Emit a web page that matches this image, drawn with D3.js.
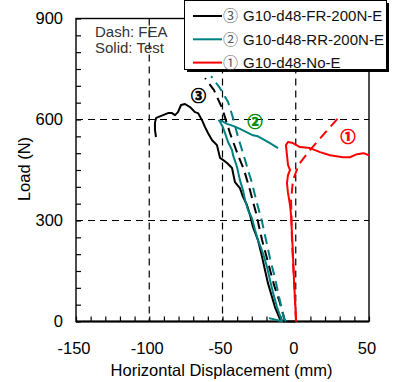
<!DOCTYPE html>
<html><head><meta charset="utf-8">
<script src="https://cdn.jsdelivr.net/npm/d3@7"></script>
<style>body{margin:0;background:#fff}svg{display:block}text{font-family:"Liberation Sans",Arial,sans-serif}</style>
</head><body><svg id="c" width="394" height="382"></svg>
<script>
// ---- data (x: horizontal displacement mm, y: load N) ----
const xTicks = [-150, -100, -50, 0, 50];
const yTicks = [0, 300, 600, 900];
const xGrid = [-100, -50, 0];
const yGrid = [300, 600];

const fr200Test = [[-8.7,0],[-0.5,0],[-8.7,1],[-10.8,7],[-14.2,43],[-16.2,73],[-19.0,114],[-21.0,153],[-23.0,192],[-25.8,242],[-29.2,281],[-31.2,316],[-33.3,346],[-36.0,370],[-38.1,396],[-41.5,414],[-43.5,456],[-46.9,471],[-49.7,480],[-51.7,486],[-53.8,524],[-57.2,539],[-59.9,560],[-62.0,578],[-64.0,598],[-66.7,619],[-68.8,622],[-72.2,637],[-75.6,646],[-78.3,643],[-80.4,622],[-82.4,613],[-84.5,619],[-87.2,619],[-90.6,613],[-94.0,607],[-95.4,604],[-96.1,590],[-96.1,569],[-95.4,548]];
const fr200FEA = [[-7.3,0],[-10.8,55],[-14.8,108],[-19.0,177],[-23.0,242],[-27.1,322],[-31.2,390],[-35.3,450],[-39.4,494],[-44.9,560],[-50.3,634],[-55.8,687],[-61.9,723]];
const rr200Test = [[-18.3,10],[-9.4,1],[-12.8,43],[-15.5,85],[-17.6,123],[-19.6,162],[-22.4,203],[-25.8,242],[-27.8,272],[-29.9,307],[-32.6,331],[-34.6,361],[-36.0,390],[-38.1,420],[-40.1,459],[-42.8,494],[-43.5,509],[-46.2,533],[-48.3,560],[-49.7,577],[-51.7,593],[-52.4,597],[-50.3,595],[-46.9,587],[-42.8,581],[-38.1,572],[-33.3,562],[-29.2,553],[-25.8,550],[-22.4,542],[-17.6,530],[-12.1,515]];
const rr200FEA = [[-6.7,0],[-8.0,10],[-11.4,73],[-14.2,129],[-17.6,188],[-20.3,242],[-23.0,296],[-26.5,352],[-29.9,411],[-34.6,480],[-39.4,548],[-42.8,604],[-46.2,652],[-51.7,693],[-57.8,729]];
const noETest = [[0.2,0],[-0.5,64],[-1.2,123],[-1.9,198],[-2.6,263],[-3.2,316],[-3.9,346],[-5.3,382],[-6.0,411],[-5.3,435],[-3.9,450],[-5.3,465],[-6.0,495],[-6.7,524],[-5.3,533],[-1.9,530],[2.9,518],[9.7,515],[16.6,503],[23.4,494],[32.3,488],[37.0,488],[41.8,497],[46.2,500],[50,494]];
const noEFEA = [[0.2,0],[-1.2,123],[-2.6,242],[-3.2,361],[-1.9,420],[2.2,467],[9.7,509],[19.9,560],[29.5,607]];

const seriesNames = ["G10-d48-FR-200N-E", "G10-d48-RR-200N-E", "G10-d48-No-E"];
const seriesMarks = ["③", "②", "①"];
const seriesColors = ["#000000", "#008080", "#ff0000"];
const labelColors = ["#000000", "#009000", "#ff0000"];
const labelPos = [[-66.4, 670], [-27.8, 595], [35.7, 548]];

// ---- drawing ----
const svg = d3.select("#c");
const L = 76, R = 369, T = 18.5, B = 321.5;
const x = d3.scaleLinear().domain([-150, 50]).range([L, R]);
const y = d3.scaleLinear().domain([0, 900]).range([B, T]);
const markFont = '"Noto Sans CJK JP","DejaVu Sans",sans-serif';

// gridlines
svg.append("g").selectAll("line").data(xGrid).join("line")
  .attr("x1", d => x(d)).attr("x2", d => x(d)).attr("y1", T).attr("y2", B)
  .attr("stroke", "#000").attr("stroke-width", 1.2).attr("stroke-dasharray", "7,5");
svg.append("g").selectAll("line").data(yGrid).join("line")
  .attr("x1", L).attr("x2", R).attr("y1", d => y(d)).attr("y2", d => y(d))
  .attr("stroke", "#000").attr("stroke-width", 1.2).attr("stroke-dasharray", "7,5");

// axes with inner minor ticks
const xAxis = d3.axisBottom(x).tickValues(d3.range(-150, 51, 10)).tickSize(-5).tickFormat("");
const gx = svg.append("g").attr("transform", `translate(0,${B})`).call(xAxis);
const yAxis = d3.axisLeft(y).tickValues(d3.range(0, 901, 50)).tickSize(-5).tickFormat("");
const gy = svg.append("g").attr("transform", `translate(${L},0)`).call(yAxis);
[gx, gy].forEach(g => { g.select(".domain").remove(); g.selectAll("line").attr("stroke", "#000").attr("stroke-width", 1.2); });

// tick labels
svg.append("g").selectAll("text").data(xTicks).join("text")
  .attr("x", d => x(d) - 2).attr("y", 354).attr("text-anchor", "middle")
  .attr("font-size", 16.5).attr("fill", "#000").text(d => d);
svg.append("g").selectAll("text").data(yTicks).join("text")
  .attr("x", 63).attr("y", d => y(d)).attr("dy", "0.36em").attr("text-anchor", "end")
  .attr("font-size", 16.5).attr("fill", "#000").text(d => d);

// frame
svg.append("rect").attr("x", L).attr("y", T).attr("width", R - L).attr("height", B - T)
  .attr("fill", "none").attr("stroke", "#000").attr("stroke-width", 1.4);
svg.append("line").attr("x1", L).attr("x2", R).attr("y1", B).attr("y2", B).attr("stroke", "#000").attr("stroke-width", 2);

// curves
const line = d3.line().x(d => x(d[0])).y(d => y(d[1]));
const curves = [
  [fr200Test, 0, false], [rr200Test, 1, false], [noETest, 2, false],
  [fr200FEA, 0, true], [rr200FEA, 1, true], [noEFEA, 2, true]
];
curves.forEach(([data, i, dashed]) => {
  svg.append("path").attr("d", line(data)).attr("fill", "none")
    .attr("stroke", seriesColors[i]).attr("stroke-width", 2)
    .attr("stroke-linejoin", "round")
    .attr("stroke-dasharray", dashed ? "10,6" : null);
});

// curve labels
svg.append("g").selectAll("text").data(labelPos).join("text")
  .attr("x", d => x(d[0])).attr("y", d => y(d[1])).attr("dy", "0.36em")
  .attr("text-anchor", "middle").attr("font-size", 15).attr("font-weight", "bold")
  .style("font-family", markFont)
  .attr("fill", (d, i) => labelColors[i])
  .attr("stroke", (d, i) => labelColors[i]).attr("stroke-width", 0.7)
  .text((d, i) => seriesMarks[i]);

// axis titles
svg.append("text").attr("x", 221.5).attr("y", 376).attr("text-anchor", "middle")
  .attr("font-size", 16.5).attr("fill", "#000").text("Horizontal Displacement (mm)");
svg.append("text").attr("transform", "translate(30,169) rotate(-90)").attr("text-anchor", "middle")
  .attr("font-size", 16.5).attr("fill", "#000").text("Load (N)");

// note
svg.append("text").attr("x", 95).attr("y", 37).attr("font-size", 15).attr("fill", "#333").text("Dash: FEA");
svg.append("text").attr("x", 95).attr("y", 53).attr("font-size", 15).attr("fill", "#333").text("Solid: Test");

// legend
const lg = svg.append("g");
lg.append("rect").attr("x", 187).attr("y", 3).attr("width", 202).attr("height", 69).attr("fill", "#000");
lg.append("rect").attr("x", 184.5).attr("y", 0.5).attr("width", 202).attr("height", 69)
  .attr("fill", "#fff").attr("stroke", "#000").attr("stroke-width", 1);
seriesNames.forEach((name, i) => {
  const yy = 16 + i * 23.3;
  lg.append("line").attr("x1", 193).attr("x2", 222).attr("y1", yy).attr("y2", yy)
    .attr("stroke", seriesColors[i]).attr("stroke-width", 2);
  lg.append("text").attr("x", 230.5).attr("y", yy).attr("dy", "0.36em").attr("text-anchor", "middle")
    .attr("font-size", 15).style("font-family", markFont).attr("fill", "#555").text(seriesMarks[i]);
  lg.append("text").attr("x", 243).attr("y", yy).attr("dy", "0.36em")
    .attr("font-size", 15).attr("fill", "#111").text(name);
});
</script></body></html>
